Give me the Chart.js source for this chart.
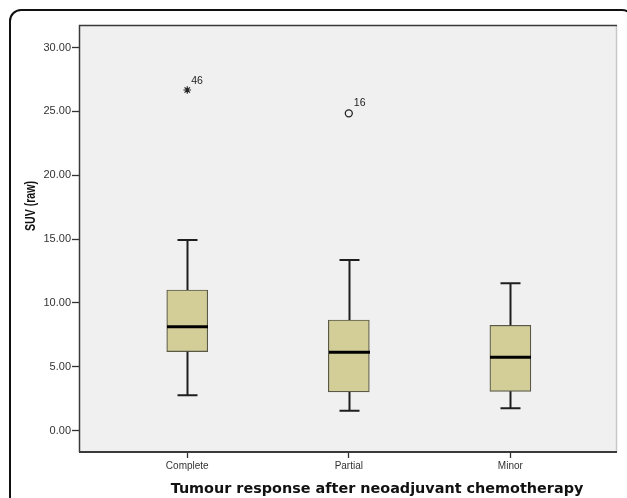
<!DOCTYPE html>
<html>
<head>
<meta charset="utf-8">
<script src="https://cdn.jsdelivr.net/npm/chart.js@4"></script>
<style>
    html, body { margin: 0; padding: 0; background: #fff; overflow: hidden; }
    #wrap { position: relative; width: 627px; height: 498px; overflow: hidden; }
    #frame {
        position: absolute; left: 9px; top: 9px; width: 621px; height: 540px;
        border: 2px solid #111; border-radius: 12px;
    }
    #chart { position: absolute; left: 0; top: 0; }
</style>
</head>
<body>
<div id="wrap">
    <div id="frame"></div>
    <canvas id="chart" width="627" height="498"></canvas>
</div>
<script>
// ========== 数据 ==========
const categories = ['Complete', 'Partial', 'Minor'];
const whiskerLow = [2.77, 1.57, 1.75];
const q1Values = [6.19, 3.03, 3.08];
const medianValues = [8.14, 6.14, 5.75];
const q3Values = [11.02, 8.67, 8.25];
const whiskerHigh = [14.93, 13.37, 11.54];

// 极端值 (*) 与离群值 (o)
const extremeCat = [1];
const extremeVal = [26.68];
const extremeId = ['46'];
const outlierCat = [2];
const outlierVal = [24.85];
const outlierId = ['16'];

const yTickValues = [0, 5, 10, 15, 20, 25, 30];
const yMin = -1.67;
const yMax = 31.77;

const xTitle = 'Tumour response after neoadjuvant chemotherapy';
const yTitle = 'SUV (raw)';

const catPos = categories.map((c, i) => i + 1);

// ========== 箱线图插件 ==========
const boxPlotPlugin = {
    id: 'boxPlot',
    beforeDraw(chart) {
        const { ctx, chartArea: a } = chart;
        ctx.save();
        ctx.fillStyle = '#f0f0f0';
        ctx.fillRect(a.left, a.top, a.right - a.left, a.bottom - a.top);
        ctx.restore();
    },
    afterDatasetsDraw(chart) {
        const ctx = chart.ctx;
        const x = chart.scales.x;
        const y = chart.scales.y;
        const bars = chart.getDatasetMeta(0).data;
        ctx.save();
        catPos.forEach((c, i) => {
            const cx = Math.round(x.getPixelForValue(c)) + 0.5;
            const half = bars[i].width / 2;
            const cap = 10;
            ctx.strokeStyle = '#1e1e1e';
            ctx.lineWidth = 2;
            // 须线
            ctx.beginPath();
            ctx.moveTo(cx, y.getPixelForValue(q3Values[i]));
            ctx.lineTo(cx, y.getPixelForValue(whiskerHigh[i]));
            ctx.moveTo(cx, y.getPixelForValue(q1Values[i]));
            ctx.lineTo(cx, y.getPixelForValue(whiskerLow[i]));
            ctx.stroke();
            // 端线
            ctx.beginPath();
            ctx.moveTo(cx - cap, y.getPixelForValue(whiskerHigh[i]));
            ctx.lineTo(cx + cap, y.getPixelForValue(whiskerHigh[i]));
            ctx.moveTo(cx - cap, y.getPixelForValue(whiskerLow[i]));
            ctx.lineTo(cx + cap, y.getPixelForValue(whiskerLow[i]));
            ctx.stroke();
            // 中位数
            ctx.strokeStyle = '#000';
            ctx.lineWidth = 3;
            ctx.beginPath();
            ctx.moveTo(cx - half, y.getPixelForValue(medianValues[i]));
            ctx.lineTo(cx + half, y.getPixelForValue(medianValues[i]));
            ctx.stroke();
        });

        // 离群点编号
        ctx.fillStyle = '#222';
        ctx.font = '10.5px "Liberation Sans", Arial, sans-serif';
        ctx.textAlign = 'left';
        ctx.textBaseline = 'alphabetic';
        extremeCat.forEach((c, i) => {
            ctx.fillText(extremeId[i], x.getPixelForValue(c) + 4, y.getPixelForValue(extremeVal[i]) - 6);
        });
        outlierCat.forEach((c, i) => {
            ctx.fillText(outlierId[i], x.getPixelForValue(c) + 5, y.getPixelForValue(outlierVal[i]) - 7);
        });
        ctx.restore();
    },
    afterDraw(chart) {
        const { ctx, chartArea: a } = chart;
        ctx.save();
        // 绘图区边框
        ctx.strokeStyle = '#c8c8c8';
        ctx.lineWidth = 1.5;
        ctx.beginPath();
        ctx.moveTo(a.right - 0.5, a.top);
        ctx.lineTo(a.right - 0.5, a.bottom);
        ctx.stroke();
        ctx.strokeStyle = '#3a3a3a';
        ctx.lineWidth = 1.5;
        ctx.beginPath();
        ctx.moveTo(a.right, a.top + 0.5);
        ctx.lineTo(a.left + 0.5, a.top + 0.5);
        ctx.lineTo(a.left + 0.5, a.bottom);
        ctx.stroke();
        ctx.lineWidth = 2;
        ctx.beginPath();
        ctx.moveTo(a.left, a.bottom);
        ctx.lineTo(a.right, a.bottom);
        ctx.stroke();

        // 坐标轴标题
        ctx.fillStyle = '#111';
        ctx.textAlign = 'center';
        ctx.textBaseline = 'middle';
        ctx.font = 'bold 14.4px "DejaVu Sans", Verdana, sans-serif';
        ctx.fillText(xTitle, 377, 489);

        ctx.translate(31, 206);
        ctx.rotate(-Math.PI / 2);
        ctx.font = 'bold 14px "Liberation Sans", Arial, sans-serif';
        ctx.fillText(yTitle, 0, 0, 50);
        ctx.restore();
    }
};

// ========== 图表 ==========
new Chart(document.getElementById('chart').getContext('2d'), {
    type: 'bar',
    data: {
        datasets: [
            {
                type: 'bar',
                data: catPos.map((c, i) => ({ x: c, y: [q1Values[i], q3Values[i]] })),
                backgroundColor: '#d3ce98',
                borderColor: '#595948',
                borderWidth: 1.2,
                borderSkipped: false,
                barThickness: 41
            },
            {
                type: 'scatter',
                data: extremeCat.map((c, i) => ({ x: c, y: extremeVal[i] })),
                pointStyle: 'star',
                radius: 3.8,
                borderColor: '#222',
                borderWidth: 1.2
            },
            {
                type: 'scatter',
                data: outlierCat.map((c, i) => ({ x: c, y: outlierVal[i] })),
                pointStyle: 'circle',
                radius: 3.5,
                backgroundColor: 'transparent',
                borderColor: '#222',
                borderWidth: 1.3
            }
        ]
    },
    options: {
        responsive: false,
        animation: false,
        devicePixelRatio: 1,
        layout: { padding: { top: 25, right: 10, left: 0, bottom: 0 } },
        plugins: {
            legend: { display: false },
            tooltip: { enabled: false }
        },
        scales: {
            x: {
                type: 'linear',
                min: 0.33,
                max: 3.66,
                offset: false,
                afterBuildTicks: s => { s.ticks = catPos.map(v => ({ value: v })); },
                afterFit: s => { s.height = 46; },
                grid: { offset: false, drawOnChartArea: false, drawTicks: true, tickLength: 6, tickColor: '#333', tickWidth: 1.3 },
                border: { display: false },
                ticks: {
                    callback: v => categories[v - 1],
                    color: '#333',
                    padding: 2,
                    maxRotation: 0,
                    font: { family: '"Liberation Sans", Arial, sans-serif', size: 10 }
                }
            },
            y: {
                min: yMin,
                max: yMax,
                afterBuildTicks: s => { s.ticks = yTickValues.map(v => ({ value: v })); },
                afterFit: s => { s.width = 79; },
                grid: { drawOnChartArea: false, drawTicks: true, tickLength: 7, tickColor: '#333', tickWidth: 1.3 },
                border: { display: false },
                ticks: {
                    callback: v => Number(v).toFixed(2),
                    color: '#333',
                    padding: 1,
                    font: { family: '"Liberation Sans", Arial, sans-serif', size: 11 }
                }
            }
        }
    },
    plugins: [boxPlotPlugin]
});
</script>
</body>
</html>
